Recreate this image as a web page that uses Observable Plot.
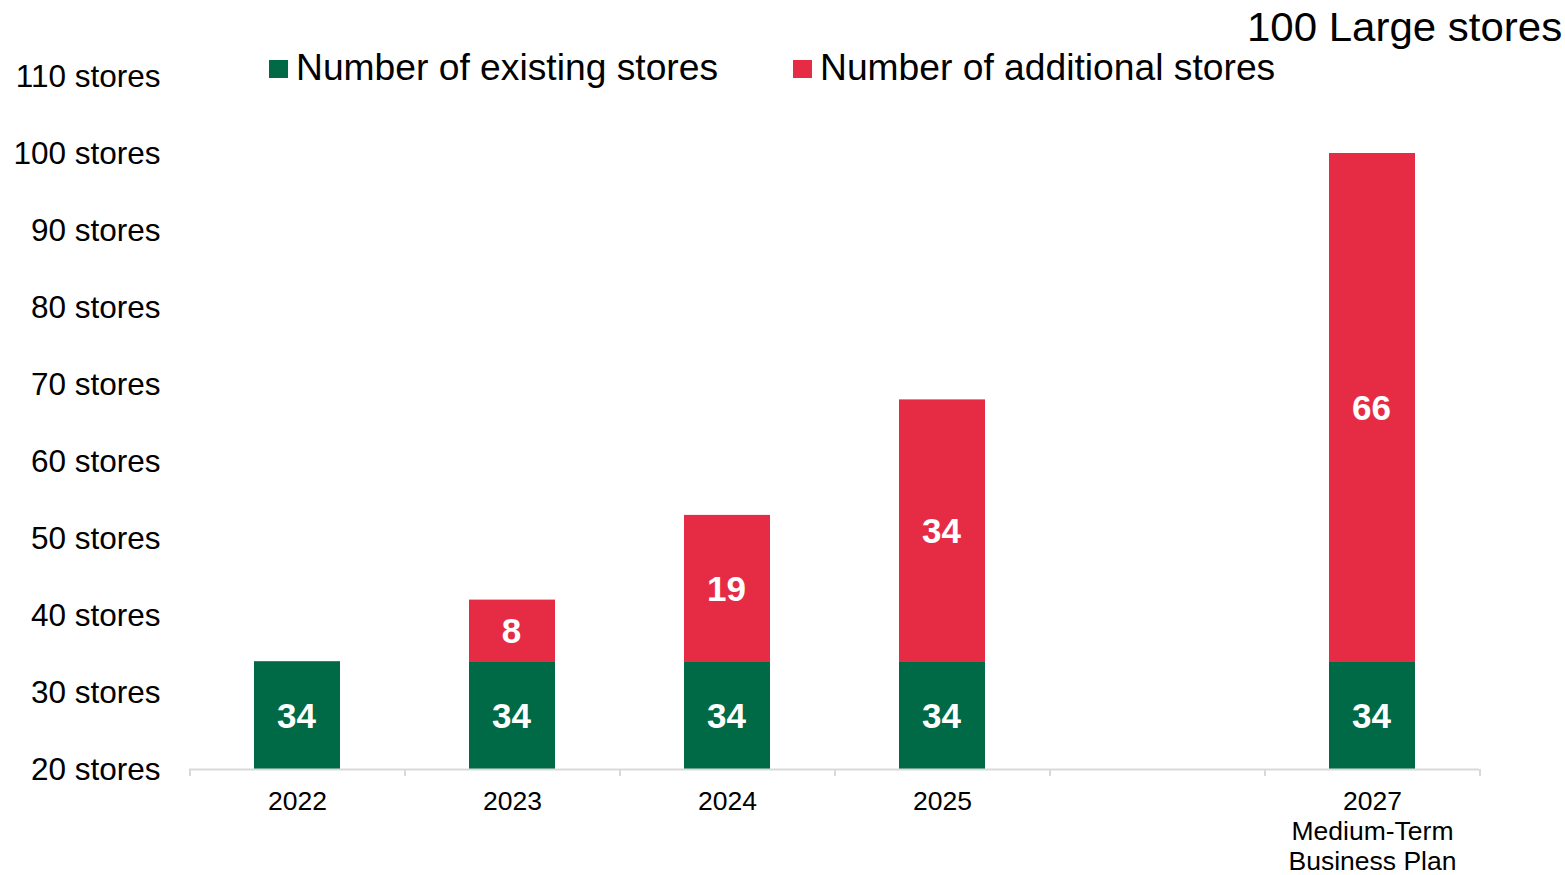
<!DOCTYPE html>
<html>
<head>
<meta charset="utf-8">
<script src="https://cdn.jsdelivr.net/npm/d3@7"></script>
<script src="https://cdn.jsdelivr.net/npm/@observablehq/plot@0.6"></script>
<style>
  html, body { margin: 0; padding: 0; background: #fff; }
  body { font-family: "Liberation Sans", Arial, sans-serif; color: #000; }
  #wrap { position: relative; width: 1565px; height: 875px; overflow: hidden; }
  #title { position: absolute; right: 3px; top: 7px; font-size: 40px; line-height: 1; white-space: nowrap; transform: scaleX(1.05); transform-origin: right center; }
  .leg { position: absolute; top: 50px; height: 36px; display: flex; align-items: center; font-size: 36px; line-height: 1; white-space: nowrap; }
  .leg span { display: inline-block; transform: scaleX(1.034); transform-origin: left center; }
  .sw { width: 18.5px; height: 18.5px; margin-right: 8px; margin-top: 2px; }
  #chart { position: absolute; left: 0; top: 0; }
</style>
</head>
<body>
<div id="wrap">
  <div id="chart"></div>
  <div id="title"></div>
  <div id="legend"></div>
</div>
<script>
// ---- data ----
const categories = ["2022", "2023", "2024", "2025", " ", "2027"];
const years = ["2022", "2023", "2024", "2025", "2027"];
const existingStores = [34, 34, 34, 34, 34];
const additionalStores = [0, 8, 19, 34, 66];
const yTicks = [20, 30, 40, 50, 60, 70, 80, 90, 100, 110];
const xTickLabels = {"2027": "2027\nMedium-Term\nBusiness Plan", " ": ""};
const seriesKeys = ["existing", "additional"];
const seriesNames = ["Number of existing stores", "Number of additional stores"];
const seriesColors = ["#006946", "#E62C45"];
const titleText = "100 Large stores";
const unit = "stores";

// ---- layout ----
const W = 1565, H = 875;
const mL = 189, mR = 86, mT = 76, mB = 106;
const step = (W - mL - mR) / categories.length;
const floor = yTicks[0];
const FONT = '"Liberation Sans", Arial, sans-serif';

// ---- rows ----
const rows = [];
years.forEach((yr, i) => {
  rows.push({year: yr, series: "existing", value: existingStores[i], lo: floor, hi: existingStores[i]});
  if (additionalStores[i] > 0) {
    rows.push({year: yr, series: "additional", value: additionalStores[i], lo: existingStores[i], hi: existingStores[i] + additionalStores[i]});
  }
});

const plot = Plot.plot({
  width: W,
  height: H,
  marginLeft: mL,
  marginRight: mR,
  marginTop: mT,
  marginBottom: mB,
  style: {fontFamily: FONT, background: "transparent", color: "#000", overflow: "visible"},
  x: {type: "band", domain: categories, paddingInner: 0.6, paddingOuter: 0.3, axis: null},
  y: {domain: [floor, yTicks[yTicks.length - 1]], axis: null},
  color: {domain: seriesKeys, range: seriesColors},
  marks: [
    Plot.barY(rows, {x: "year", y1: "lo", y2: "hi", fill: "series"}),
    Plot.text(rows, {
      x: "year", y: d => (d.lo + d.hi) / 2, text: d => String(d.value),
      fill: "white", fontSize: 35, fontWeight: "bold", fontFamily: FONT, dy: 1, dx: -1
    }),
    Plot.ruleY([floor], {stroke: "#d9d9d9", strokeWidth: 2}),
    Plot.ruleX(categories, {x: d => d, y1: floor, y2: floor, dx: -step / 2, insetBottom: -7, stroke: "#d9d9d9", strokeWidth: 2}),
    Plot.ruleX([categories[categories.length - 1]], {x: d => d, y1: floor, y2: floor, dx: step / 2, insetBottom: -7, stroke: "#d9d9d9", strokeWidth: 2}),
    Plot.axisY({
      ticks: yTicks, tickFormat: d => `${d} ${unit}`, tickSize: 0, tickPadding: 29,
      fontSize: 31.5, label: null, fill: "#000"
    }),
    Plot.axisX({
      tickSize: 0, tickPadding: 19, fontSize: 26.5, lineHeight: 1.13, label: null, fill: "#000",
      tickFormat: d => (d in xTickLabels ? xTickLabels[d] : d)
    })
  ]
});
document.getElementById("chart").appendChild(plot);

// ---- title & legend ----
document.getElementById("title").textContent = titleText;
const legend = document.getElementById("legend");
const legendLefts = [269, 793];
seriesKeys.forEach((k, i) => {
  const item = document.createElement("div");
  item.className = "leg";
  item.style.left = legendLefts[i] + "px";
  const sw = document.createElement("div");
  sw.className = "sw";
  sw.style.background = seriesColors[i];
  const t = document.createElement("span");
  t.textContent = seriesNames[i];
  item.appendChild(sw);
  item.appendChild(t);
  legend.appendChild(item);
});
</script>
</body>
</html>
